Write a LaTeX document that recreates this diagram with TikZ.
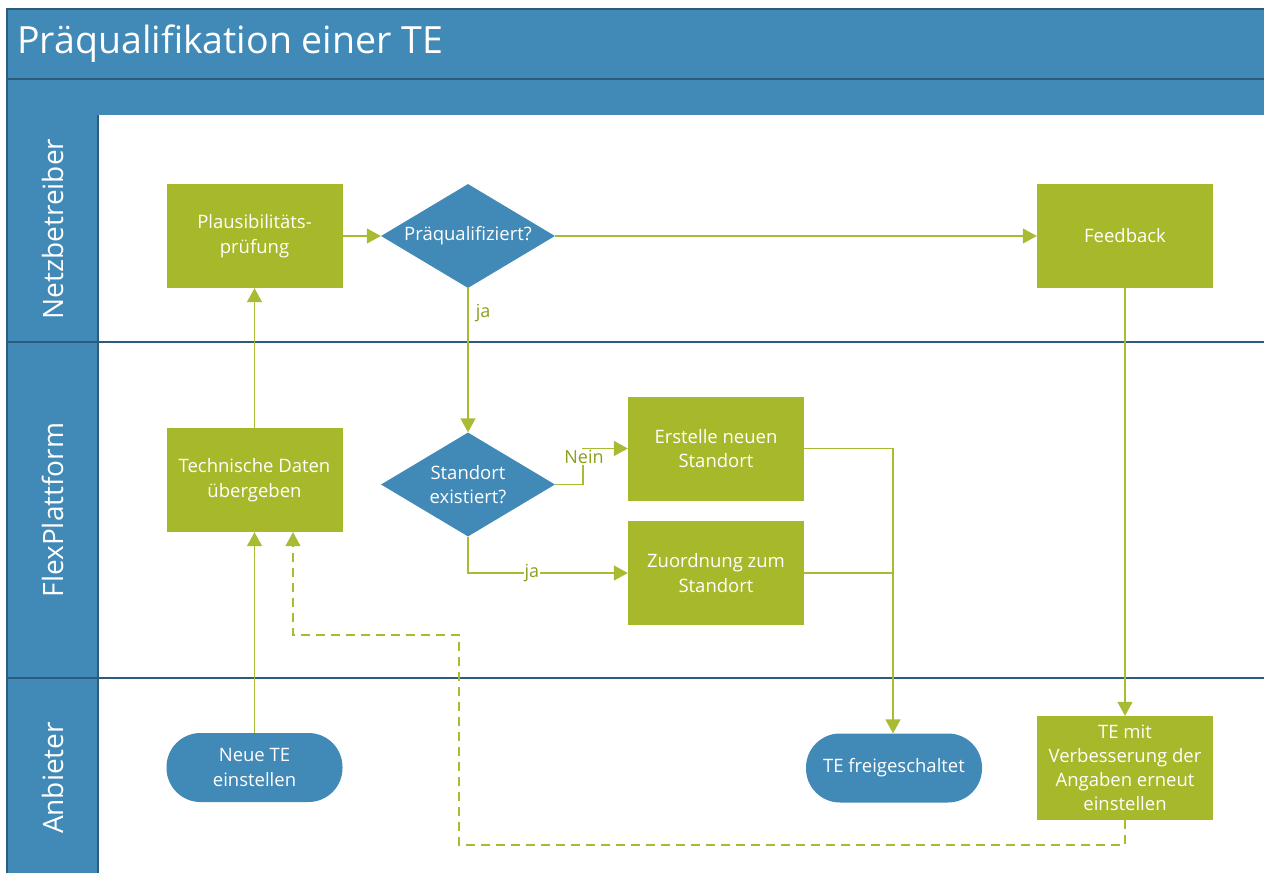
\documentclass[tikz,border=0pt]{standalone}
\usepackage{fontspec}
\setmainfont{Open Sans}
\usetikzlibrary{shapes.geometric,arrows.meta}
\definecolor{laneblue}{HTML}{4189B7}
\definecolor{frameline}{HTML}{2D5B7C}
\definecolor{leaf}{HTML}{A8B82B}
\definecolor{wire}{HTML}{A9BA33}
\definecolor{labelgreen}{HTML}{8C9E1C}
\begin{document}
\begin{tikzpicture}[x=1pt,y=-1pt,
  boxtext/.style={text=white,font=\fontsize{18.5}{24.5}\selectfont,align=center,inner sep=0pt},
  task/.style={boxtext,rectangle,fill=leaf,minimum width=176pt,minimum height=104pt},
  decide/.style={boxtext,diamond,fill=laneblue,aspect=1.67,minimum width=174pt,minimum height=104pt},
  terminal/.style={boxtext,rectangle,rounded corners=34pt,fill=laneblue,minimum width=176pt,minimum height=69pt},
  flow/.style={draw=wire,line width=1.5pt,-{Triangle[length=14pt,width=15pt]}},
  backflow/.style={flow,dash pattern=on 9pt off 6pt},
  edgelabel/.style={text=labelgreen,font=\fontsize{18}{21}\selectfont,inner sep=1pt},
  lanetitle/.style={text=white,font=\fontsize{28}{32}\selectfont,rotate=90}]
\useasboundingbox (0,0) rectangle (1264,873);
\fill[white] (0,0) rectangle (1264,873);
\begin{scope}
\clip (0,0) rectangle (1264,873);
% pool header and lane header column
\fill[laneblue] (7,9) rectangle (1270,115);
\fill[laneblue] (7,115) rectangle (98,880);
\draw[frameline,line width=1.5pt] (1270,9) -- (7,9) -- (7,880);
\draw[frameline,line width=1.2pt] (7,79) -- (1270,79);
\draw[frameline,line width=1.2pt] (98,115) -- (98,880);
\draw[frameline,line width=1.2pt] (7,342) -- (1270,342);
\draw[frameline,line width=1.2pt] (7,678) -- (1270,678);
\node[anchor=west,text=white,font=\fontsize{37.5}{42}\selectfont,inner sep=0pt] (title) at (17,44) {Präqualifikation einer TE};
\node[lanetitle] (laneNB) at (53,229) {Netzbetreiber};
\node[lanetitle] (laneFP) at (53,510) {FlexPlattform};
\node[lanetitle] (laneAN) at (53,778) {Anbieter};
\end{scope}

% process steps
\node[task] (plaus) at (254.5,236) {Plausibilitäts-\\prüfung};
\node[decide] (praequ) at (468,236) {Präqualifiziert?};
\node[task] (feedback) at (1125,236) {Feedback};
\node[task] (techdaten) at (254.5,480) {Technische Daten\\übergeben};
\node[decide] (standort) at (468,484.5) {Standort\\existiert?};
\node[task] (neuort) at (716,448.5) {Erstelle neuen\\Standort};
\node[task] (zuordnung) at (716,573) {Zuordnung zum\\Standort};
\node[terminal] (neuete) at (254.5,767.5) {Neue TE\\einstellen};
\node[terminal] (frei) at (894,768) {TE freigeschaltet};
\node[task,font=\fontsize{18.5}{24}\selectfont] (verbessern) at (1125,768) {TE mit\\Verbesserung der\\Angaben erneut\\einstellen};

% junction points of the routed connectors
\coordinate (nbend) at (583,484.5);
\coordinate (jbend) at (468,573);
\coordinate (merge) at (893,448.5);
\coordinate (d1) at (1125,845);
\coordinate (d2) at (459,845);
\coordinate (d3) at (459,635);
\coordinate (d4) at (293,635);

% connectors
\draw[flow] (neuete) -- (techdaten);
\draw[flow] (techdaten) -- (plaus);
\draw[flow] (plaus) -- (praequ);
\draw[flow] (praequ) -- (feedback);
\draw[flow] (praequ) -- node[edgelabel,right,pos=0.17,xshift=6pt] (ja1) {ja} (standort);
\draw[flow] (standort.east) -- (nbend) |- (neuort.west);
\node[edgelabel,fill=white] (nein) at (584,457) {Nein};
\draw[flow] (standort.south) -- (jbend) -- node[edgelabel,fill=white,pos=0.4] (ja2) {ja} (zuordnung.west);
\draw[flow] (neuort.east) -- (merge) -- (frei.north -| merge);
\draw[draw=wire,line width=1.5pt] (zuordnung.east) -- (zuordnung.east -| merge);
\draw[flow] (feedback) -- (verbessern);
\draw[backflow] (verbessern.south) -- (d1) -- (d2) -- (d3) -- (d4) -- (d4 |- techdaten.south);
\end{tikzpicture}
\end{document}
